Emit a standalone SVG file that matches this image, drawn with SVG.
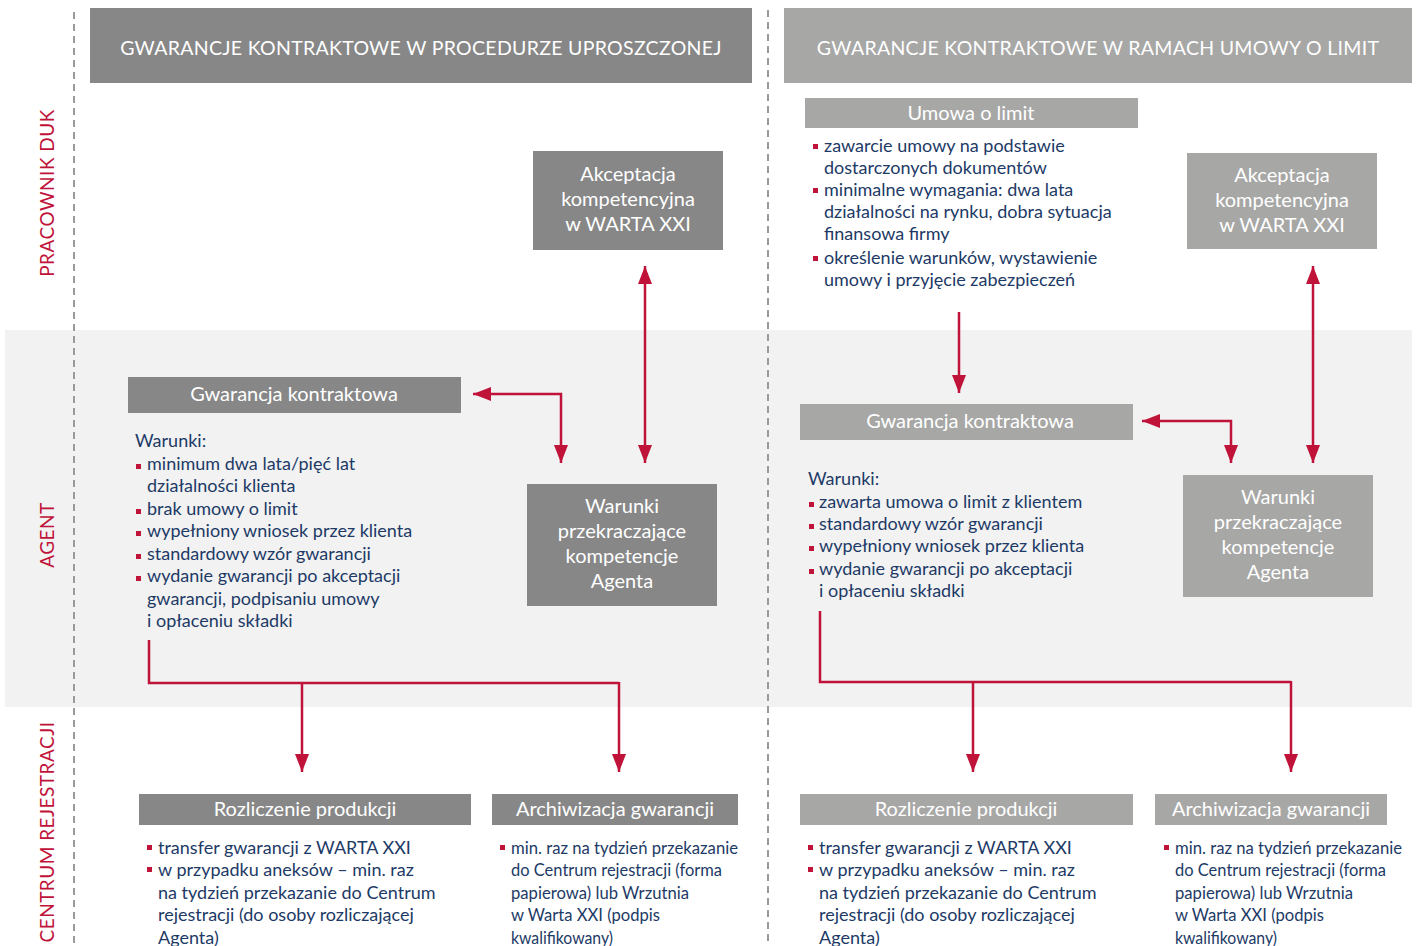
<svg xmlns="http://www.w3.org/2000/svg" width="1417" height="946" viewBox="0 0 1417 946">
<style>
.hdr{font-family:Lato,"Open Sans",sans-serif;font-size:19.5px;fill:#fff;text-anchor:middle;letter-spacing:0.3px}
.bt{font-family:Lato,"Open Sans",sans-serif;font-size:20px;fill:#fff;text-anchor:middle}
.tx{font-family:Lato,"Open Sans",sans-serif;font-size:18px;fill:#1d3a66}
.lane{font-family:Lato,"Open Sans",sans-serif;font-size:19px;fill:#c0133a;text-anchor:middle;letter-spacing:0.5px}
.dk{fill:#878787}
.lt{fill:#a7a7a6}
.bul{fill:#c0133a}
.cn{fill:none;stroke:#c0133a;stroke-width:2.5}
.dash{stroke:#9a9a9a;stroke-width:2;stroke-dasharray:7 5}
</style>
<defs>
<marker id="ah" viewBox="0 0 18 14" refX="18" refY="7" markerWidth="18" markerHeight="14" markerUnits="userSpaceOnUse" orient="auto-start-reverse">
<path d="M0,0 L18,7 L0,14 z" fill="#c0133a"/>
</marker>
</defs>
<rect width="1417" height="946" fill="#fff"/>
<rect x="5" y="330" width="1407" height="377" fill="#f2f2f2"/>
<line class="dash" x1="74" y1="12" x2="74" y2="946"/>
<line class="dash" x1="768" y1="10" x2="768" y2="946"/>

<g id="lanes">
<text class="lane" transform="translate(54,193) rotate(-90)">PRACOWNIK DUK</text>
<text class="lane" transform="translate(54,535) rotate(-90)">AGENT</text>
<text class="lane" transform="translate(54,832) rotate(-90)">CENTRUM REJESTRACJI</text>
</g>

<g id="header-left"><rect class="dk" x="90" y="8" width="662" height="75"/><text class="hdr" x="421" y="55">GWARANCJE KONTRAKTOWE W PROCEDURZE UPROSZCZONEJ</text></g>
<g id="header-right"><rect class="lt" x="784" y="8" width="628" height="75"/><text class="hdr" x="1098" y="55">GWARANCJE KONTRAKTOWE W RAMACH UMOWY O LIMIT</text></g>

<g id="akceptacja-left"><rect class="dk" x="533" y="151" width="190" height="99"/>
<text class="bt" x="628" y="181">Akceptacja</text><text class="bt" x="628" y="206">kompetencyjna</text><text class="bt" x="628" y="231">w WARTA XXI</text></g>

<g id="gwarancja-left"><rect class="dk" x="128" y="377" width="333" height="36"/><text class="bt" x="294" y="401">Gwarancja kontraktowa</text>
<text class="tx" x="135" y="447">Warunki:</text>
<rect class="bul" x="136" y="464" width="5" height="5"/><text class="tx" x="147" y="470">minimum dwa lata/pięć lat</text>
<text class="tx" x="147" y="492">działalności klienta</text>
<rect class="bul" x="136" y="509" width="5" height="5"/><text class="tx" x="147" y="515">brak umowy o limit</text>
<rect class="bul" x="136" y="531" width="5" height="5"/><text class="tx" x="147" y="537">wypełniony wniosek przez klienta</text>
<rect class="bul" x="136" y="554" width="5" height="5"/><text class="tx" x="147" y="560">standardowy wzór gwarancji</text>
<rect class="bul" x="136" y="576" width="5" height="5"/><text class="tx" x="147" y="582">wydanie gwarancji po akceptacji</text>
<text class="tx" x="147" y="605">gwarancji, podpisaniu umowy</text>
<text class="tx" x="147" y="627">i opłaceniu składki</text>
</g>

<g id="przekraczajace-left"><rect class="dk" x="527" y="484" width="190" height="122"/>
<text class="bt" x="622" y="513">Warunki</text><text class="bt" x="622" y="538">przekraczające</text><text class="bt" x="622" y="563">kompetencje</text><text class="bt" x="622" y="588">Agenta</text></g>

<g id="rozliczenie-left"><rect class="dk" x="139" y="794" width="332" height="31"/><text class="bt" x="305" y="816">Rozliczenie produkcji</text>
<rect class="bul" x="147" y="845" width="5" height="5"/><text class="tx" x="158" y="854">transfer gwarancji z WARTA XXI</text>
<rect class="bul" x="147" y="867" width="5" height="5"/><text class="tx" x="158" y="876">w przypadku aneksów – min. raz</text>
<text class="tx" x="158" y="899">na tydzień przekazanie do Centrum</text>
<text class="tx" x="158" y="921">rejestracji (do osoby rozliczającej</text>
<text class="tx" x="158" y="944">Agenta)</text>
</g>

<g id="archiwizacja-left"><rect class="dk" x="492" y="794" width="246" height="31"/><text class="bt" x="615" y="816">Archiwizacja gwarancji</text>
<rect class="bul" x="500" y="845" width="5" height="5"/><text class="tx" x="511" y="854" textLength="227" lengthAdjust="spacingAndGlyphs">min. raz na tydzień przekazanie</text>
<text class="tx" x="511" y="876" textLength="211" lengthAdjust="spacingAndGlyphs">do Centrum rejestracji (forma</text>
<text class="tx" x="511" y="899" textLength="178" lengthAdjust="spacingAndGlyphs">papierowa) lub Wrzutnia</text>
<text class="tx" x="511" y="921" textLength="149" lengthAdjust="spacingAndGlyphs">w Warta XXI (podpis</text>
<text class="tx" x="511" y="944" textLength="102" lengthAdjust="spacingAndGlyphs">kwalifikowany)</text>
</g>

<g id="umowa-limit"><rect class="lt" x="805" y="98" width="333" height="30"/><text class="bt" x="971" y="120">Umowa o limit</text>
<rect class="bul" x="813" y="144" width="5" height="5"/><text class="tx" x="824" y="152">zawarcie umowy na podstawie</text>
<text class="tx" x="824" y="174">dostarczonych dokumentów</text>
<rect class="bul" x="813" y="188" width="5" height="5"/><text class="tx" x="824" y="196">minimalne wymagania: dwa lata</text>
<text class="tx" x="824" y="218">działalności na rynku, dobra sytuacja</text>
<text class="tx" x="824" y="240">finansowa firmy</text>
<rect class="bul" x="813" y="256" width="5" height="5"/><text class="tx" x="824" y="264">określenie warunków, wystawienie</text>
<text class="tx" x="824" y="286">umowy i przyjęcie zabezpieczeń</text>
</g>

<g id="akceptacja-right"><rect class="lt" x="1187" y="153" width="190" height="96"/>
<text class="bt" x="1282" y="182">Akceptacja</text><text class="bt" x="1282" y="207">kompetencyjna</text><text class="bt" x="1282" y="232">w WARTA XXI</text></g>

<g id="gwarancja-right"><rect class="lt" x="800" y="404" width="333" height="36"/><text class="bt" x="970" y="428">Gwarancja kontraktowa</text>
<text class="tx" x="808" y="485">Warunki:</text>
<rect class="bul" x="809" y="502" width="5" height="5"/><text class="tx" x="819" y="508">zawarta umowa o limit z klientem</text>
<rect class="bul" x="809" y="524" width="5" height="5"/><text class="tx" x="819" y="530">standardowy wzór gwarancji</text>
<rect class="bul" x="809" y="546" width="5" height="5"/><text class="tx" x="819" y="552">wypełniony wniosek przez klienta</text>
<rect class="bul" x="809" y="569" width="5" height="5"/><text class="tx" x="819" y="575">wydanie gwarancji po akceptacji</text>
<text class="tx" x="819" y="597">i opłaceniu składki</text>
</g>

<g id="przekraczajace-right"><rect class="lt" x="1183" y="475" width="190" height="122"/>
<text class="bt" x="1278" y="504">Warunki</text><text class="bt" x="1278" y="529">przekraczające</text><text class="bt" x="1278" y="554">kompetencje</text><text class="bt" x="1278" y="579">Agenta</text></g>

<g id="rozliczenie-right"><rect class="lt" x="800" y="794" width="333" height="31"/><text class="bt" x="966" y="816">Rozliczenie produkcji</text>
<rect class="bul" x="808" y="845" width="5" height="5"/><text class="tx" x="819" y="854">transfer gwarancji z WARTA XXI</text>
<rect class="bul" x="808" y="867" width="5" height="5"/><text class="tx" x="819" y="876">w przypadku aneksów – min. raz</text>
<text class="tx" x="819" y="899">na tydzień przekazanie do Centrum</text>
<text class="tx" x="819" y="921">rejestracji (do osoby rozliczającej</text>
<text class="tx" x="819" y="944">Agenta)</text>
</g>

<g id="archiwizacja-right"><rect class="lt" x="1155" y="794" width="232" height="31"/><text class="bt" x="1271" y="816">Archiwizacja gwarancji</text>
<rect class="bul" x="1164" y="845" width="5" height="5"/><text class="tx" x="1175" y="854" textLength="227" lengthAdjust="spacingAndGlyphs">min. raz na tydzień przekazanie</text>
<text class="tx" x="1175" y="876" textLength="211" lengthAdjust="spacingAndGlyphs">do Centrum rejestracji (forma</text>
<text class="tx" x="1175" y="899" textLength="178" lengthAdjust="spacingAndGlyphs">papierowa) lub Wrzutnia</text>
<text class="tx" x="1175" y="921" textLength="149" lengthAdjust="spacingAndGlyphs">w Warta XXI (podpis</text>
<text class="tx" x="1175" y="944" textLength="102" lengthAdjust="spacingAndGlyphs">kwalifikowany)</text>
</g>

<g id="connectors">
<polyline class="cn" points="473,394 561,394 561,463" marker-start="url(#ah)" marker-end="url(#ah)"/>
<line class="cn" x1="645" y1="266" x2="645" y2="463" marker-start="url(#ah)" marker-end="url(#ah)"/>
<polyline class="cn" points="149,640 149,683 619,683"/>
<line class="cn" x1="302" y1="683" x2="302" y2="772" marker-end="url(#ah)"/>
<line class="cn" x1="619" y1="682" x2="619" y2="772" marker-end="url(#ah)"/>
<line class="cn" x1="959" y1="312" x2="959" y2="393" marker-end="url(#ah)"/>
<polyline class="cn" points="1142,421 1231,421 1231,463" marker-start="url(#ah)" marker-end="url(#ah)"/>
<line class="cn" x1="1313" y1="266" x2="1313" y2="463" marker-start="url(#ah)" marker-end="url(#ah)"/>
<polyline class="cn" points="820,611 820,682 1291,682"/>
<line class="cn" x1="973" y1="682" x2="973" y2="772" marker-end="url(#ah)"/>
<line class="cn" x1="1291" y1="681" x2="1291" y2="772" marker-end="url(#ah)"/>
</g>
</svg>
